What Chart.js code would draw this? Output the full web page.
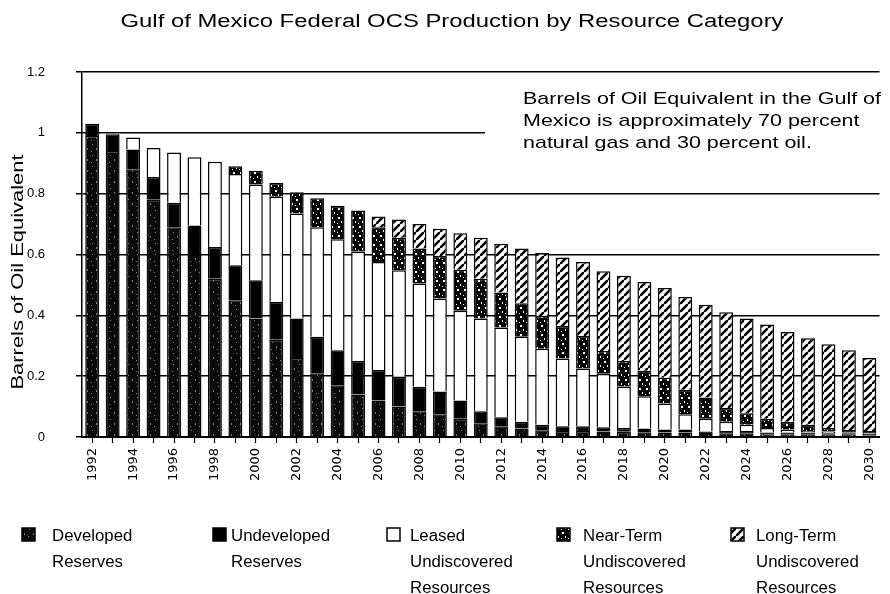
<!DOCTYPE html>
<html>
<head>
<meta charset="utf-8">
<script src="https://cdn.jsdelivr.net/npm/chart.js@4.4.1/dist/chart.umd.min.js"></script>
<style>
  html, body { margin: 0; padding: 0; background: #fff; }
  #wrap { width: 890px; height: 594px; }
</style>
</head>
<body>
<div id="wrap"><canvas id="chartGom"></canvas></div>
<script>
const years = [
    1992, 1993, 1994, 1995, 1996, 1997, 1998, 1999, 2000, 2001,
    2002, 2003, 2004, 2005, 2006, 2007, 2008, 2009, 2010, 2011,
    2012, 2013, 2014, 2015, 2016, 2017, 2018, 2019, 2020, 2021,
    2022, 2023, 2024, 2025, 2026, 2027, 2028, 2029, 2030,
];
const developed = [
    0.99, 0.94, 0.88, 0.78, 0.69, 0.6, 0.52, 0.45, 0.39, 0.32,
    0.26, 0.21, 0.17, 0.14, 0.12, 0.1, 0.085, 0.075, 0.06, 0.045,
    0.035, 0.028, 0.022, 0.02, 0.02, 0.018, 0.017, 0.016, 0.015, 0.015,
    0.01, 0.012, 0.012, 0.009, 0.009, 0.009, 0.007, 0.007, 0.006,
];
const undeveloped = [
    0.04, 0.055, 0.065, 0.075, 0.08, 0.095, 0.105, 0.115, 0.125, 0.125,
    0.13, 0.12, 0.115, 0.11, 0.1, 0.098, 0.08, 0.075, 0.06, 0.04,
    0.03, 0.022, 0.018, 0.015, 0.015, 0.014, 0.013, 0.012, 0.01, 0.01,
    0.008, 0.008, 0.008, 0.006, 0.006, 0.006, 0.005, 0.005, 0.004,
];
const leased = [
    0, 0, 0.04, 0.095, 0.165, 0.225, 0.28, 0.3, 0.315, 0.345,
    0.345, 0.36, 0.365, 0.36, 0.355, 0.35, 0.34, 0.305, 0.295, 0.305,
    0.295, 0.28, 0.25, 0.223, 0.19, 0.176, 0.136, 0.106, 0.085, 0.05,
    0.042, 0.03, 0.02, 0.015, 0.01, 0.005, 0.006, 0.003, 0.002,
];
const nearTerm = [
    0, 0, 0, 0, 0, 0, 0, 0.025, 0.045, 0.045,
    0.07, 0.095, 0.11, 0.135, 0.115, 0.107, 0.115, 0.14, 0.135, 0.13,
    0.115, 0.11, 0.108, 0.107, 0.107, 0.075, 0.084, 0.084, 0.085, 0.08,
    0.07, 0.045, 0.038, 0.03, 0.025, 0.02, 0.012, 0.008, 0.008,
];
const longTerm = [
    0, 0, 0, 0, 0, 0, 0, 0, 0, 0,
    0, 0, 0, 0, 0.035, 0.06, 0.08, 0.09, 0.12, 0.135,
    0.16, 0.18, 0.207, 0.225, 0.243, 0.262, 0.28, 0.292, 0.295, 0.305,
    0.305, 0.315, 0.312, 0.31, 0.295, 0.285, 0.275, 0.262, 0.24,
];
const legendLines = [
    ["Developed", "Reserves"],
    ["Undeveloped", "Reserves"],
    ["Leased", "Undiscovered", "Resources"],
    ["Near-Term", "Undiscovered", "Resources"],
    ["Long-Term", "Undiscovered", "Resources"],
];
const chartTitle = "Gulf of Mexico Federal OCS Production by Resource Category";
const yAxisTitle = "Barrels of Oil Equivalent";
const noteLines = [
    "Barrels of Oil Equivalent in the Gulf of",
    "Mexico is approximately 70 percent",
    "natural gas and 30 percent oil.",
];

const FONT = '"Liberation Sans", Arial, Helvetica, sans-serif';
const canvas = document.getElementById("chartGom");
const mainCtx = canvas.getContext("2d");

// fill patterns that mimic the scanned black & white print
function makePattern(w, h, draw) {
    const tile = document.createElement("canvas");
    tile.width = w;
    tile.height = h;
    draw(tile.getContext("2d"), w, h);
    return mainCtx.createPattern(tile, "repeat");
}

const fillDeveloped = makePattern(9, 11, (g, w, h) => {
    g.fillStyle = "#0a0a0a";
    g.fillRect(0, 0, w, h);
    g.fillStyle = "#7a7a7a";
    g.fillRect(2, 1, 1, 1);
    g.fillRect(6, 5, 1, 2);
    g.fillRect(1, 8, 1, 1);
});
const fillNearTerm = makePattern(7, 9, (g, w, h) => {
    g.fillStyle = "#000";
    g.fillRect(0, 0, w, h);
    g.fillStyle = "#fff";
    g.fillRect(2, 1, 2, 2);
    g.fillRect(5, 5, 1, 2);
    g.fillRect(1, 7, 1, 1);
});
const fillLongTerm = makePattern(8, 8, (g, w, h) => {
    g.fillStyle = "#fff";
    g.fillRect(0, 0, w, h);
    g.strokeStyle = "#000";
    g.lineWidth = 2.6;
    g.beginPath();
    g.moveTo(-1, h + 1);
    g.lineTo(w + 1, -1);
    g.moveTo(-2, 1);
    g.lineTo(1, -2);
    g.moveTo(w - 1, h + 2);
    g.lineTo(w + 2, h - 1);
    g.stroke();
});

const fills = [fillDeveloped, "#000", "#fff", fillNearTerm, fillLongTerm];
const seriesData = [developed, undeveloped, leased, nearTerm, longTerm];

function stretchText(ctx, text, x, y, sx, align) {
    ctx.save();
    ctx.translate(x, y);
    ctx.scale(sx, 1);
    ctx.textAlign = align || "left";
    ctx.fillText(text, 0, 0);
    ctx.restore();
}

// title, axis title, note, partial 1.0 rule and legend
const paperText = {
    id: "paperText",
    afterDraw(chart) {
        const ctx = chart.ctx;
        const area = chart.chartArea;
        const yScale = chart.scales.y;
        ctx.save();
        ctx.fillStyle = "#000";
        ctx.textBaseline = "alphabetic";

        ctx.font = "18px " + FONT;
        let w = ctx.measureText(chartTitle).width;
        stretchText(ctx, chartTitle, 452, 27, 663 / w, "center");

        ctx.font = "17px " + FONT;
        w = ctx.measureText(yAxisTitle).width;
        ctx.save();
        ctx.translate(23, 272);
        ctx.rotate(-Math.PI / 2);
        stretchText(ctx, yAxisTitle, 0, 0, 235 / w, "center");
        ctx.restore();

        // the rule at 1.0 stops short of the note
        const y1 = yScale.getPixelForValue(1);
        ctx.strokeStyle = "#000";
        ctx.lineWidth = 1.5;
        ctx.beginPath();
        ctx.moveTo(area.left, y1);
        ctx.lineTo(485, y1);
        ctx.stroke();

        ctx.font = "17px " + FONT;
        w = ctx.measureText(noteLines[0]).width;
        const noteScale = 358 / w;
        noteLines.forEach((line, i) => {
            stretchText(ctx, line, 523, 104 + i * 22, noteScale);
        });

        // legend
        const iconX = [22, 213, 387, 557, 731];
        const textX = [52, 231, 410, 583, 756];
        ctx.font = "16px " + FONT;
        chart.data.datasets.forEach((ds, i) => {
            ctx.fillStyle = ds.backgroundColor;
            ctx.fillRect(iconX[i], 528, 13, 13);
            ctx.strokeStyle = "#000";
            ctx.lineWidth = 1.5;
            ctx.strokeRect(iconX[i], 528, 13, 13);
            ctx.fillStyle = "#000";
            legendLines[i].forEach((line, j) => {
                stretchText(ctx, line, textX[i], 541 + j * 26, 1.05);
            });
        });
        ctx.restore();
    },
};

new Chart(canvas, {
    type: "bar",
    data: {
        labels: years.map(String),
        datasets: seriesData.map((values, i) => ({
            label: legendLines[i].join(" "),
            data: values,
            backgroundColor: fills[i],
            borderColor: "#000",
            borderWidth: 1.5,
            barPercentage: 0.68,
            categoryPercentage: 1.0,
        })),
    },
    options: {
        responsive: true,
        maintainAspectRatio: false,
        animation: false,
        layout: {
            padding: { top: 72, left: 0, right: 5, bottom: 97 },
        },
        plugins: {
            legend: { display: false },
            title: { display: false },
            tooltip: { enabled: false },
        },
        scales: {
            x: {
                stacked: true,
                z: 1,
                afterFit: (scale) => {
                    scale.height = 60;
                },
                border: { display: true, color: "#000", width: 2 },
                grid: {
                    offset: false,
                    drawOnChartArea: false,
                    drawTicks: true,
                    tickLength: 6,
                    tickColor: "#000",
                    tickWidth: 1.2,
                },
                ticks: {
                    autoSkip: false,
                    maxRotation: 90,
                    minRotation: 90,
                    padding: 5,
                    color: "#000",
                    font: { family: '"DejaVu Sans", sans-serif', size: 13 },
                    callback: function (value, index) {
                        return index % 2 === 0 ? this.getLabelForValue(value) : "";
                    },
                },
            },
            y: {
                stacked: true,
                z: 1,
                min: 0,
                max: 1.2,
                afterFit: (scale) => {
                    scale.width = 82;
                },
                border: { display: true, color: "#000", width: 1.5 },
                grid: {
                    color: (c) =>
                        c.tick && (c.tick.value === 0 || Math.abs(c.tick.value - 1) < 1e-6)
                            ? "rgba(0,0,0,0)"
                            : "#000",
                    lineWidth: 1.5,
                    drawTicks: true,
                    tickLength: 6,
                    tickColor: "#000",
                },
                ticks: {
                    stepSize: 0.2,
                    padding: 31,
                    color: "#000",
                    font: { family: FONT, size: 13 },
                    callback: (value) => String(Number(value.toFixed(1))),
                },
            },
        },
    },
    plugins: [paperText],
});
</script>
</body>
</html>
